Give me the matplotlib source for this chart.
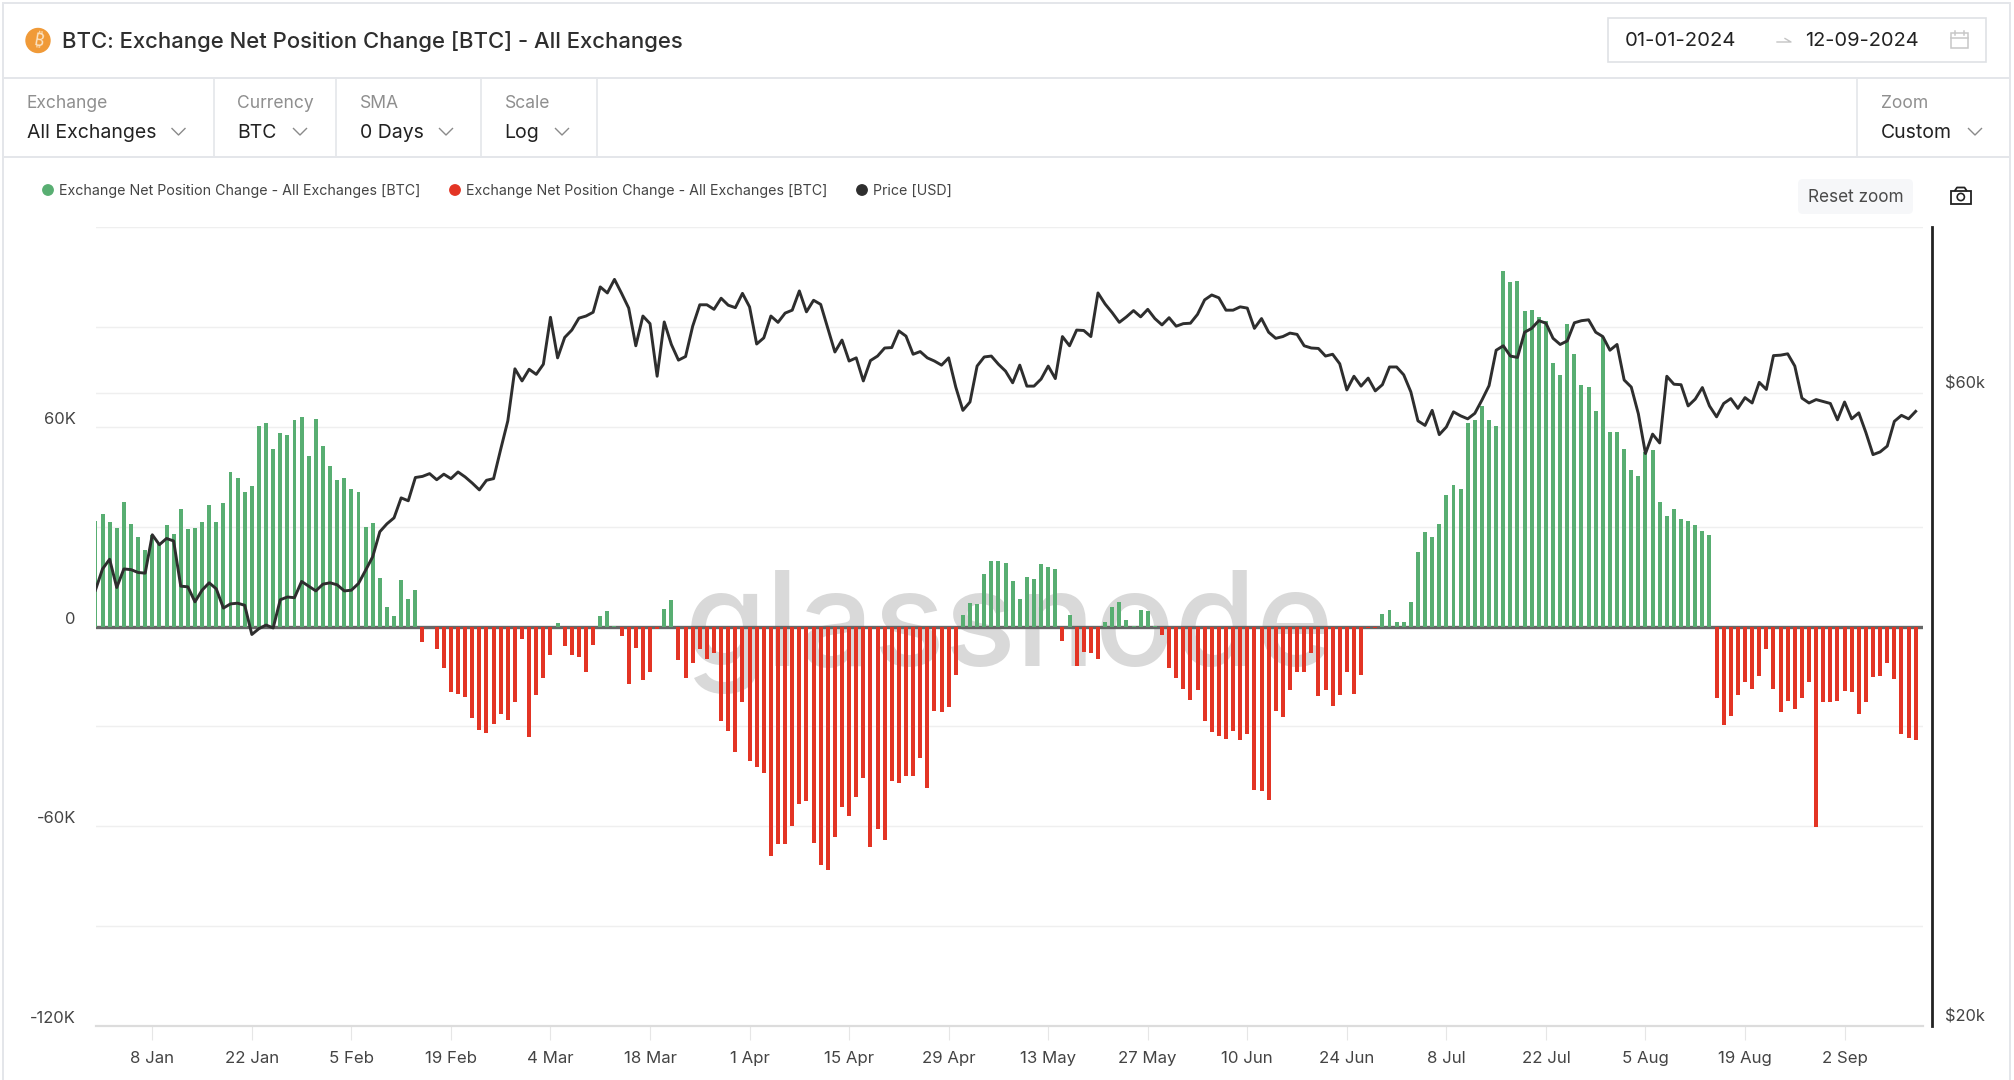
import numpy as np
import pandas as pd
import matplotlib
matplotlib.use("Agg")
import matplotlib.pyplot as plt
from matplotlib.patches import Circle, FancyBboxPatch, Rectangle

plt.rcParams['font.family'] = ['Inter', 'DejaVu Sans']

# net position change, thousands of BTC, one value per day from 31 Dec 2023
net_change_k = [
    31.7, 33.9, 31.4, 29.7, 37.4, 30.9, 27, 22.9, 27.4, 24.8, 30.5, 27.9, 35.3, 29.2, 29.7, 31.4,
    36.5, 31.4, 37, 46.5, 44.6, 40.4, 42.1, 60.2, 61.1, 53.3, 58.1, 57.6, 61.9, 62.8, 51.2, 62.4,
    54.2, 48.2, 43.9, 44.7, 41.3, 40.4, 30, 31.2, 14.5, 5.8, 3.2, 14, 8.4, 11,
    -4.8, -0.1, -6.8, -12.5, -19.8, -20.3, -21.1, -27.5, -31, -32, -29.3, -26.3, -28, -22.8, -3.9,
    -33.2, -20.7, -15.5, -8.6, 1, -6, -8.6, -9.1, -13.8, -5.6, 3.2, 4.6, 0.2, -3, -17.2, -6.5, -16,
    -13.8, -0.7, 5.4, 8, -10, -15.4, -11, -6.7, -9.7, -8, -28.5, -31.3, -37.8, -22.7, -40.4, -42.1,
    -44.1, -68.9, -65.4, -65.4, -59.9, -53.3, -52.3, -65.1, -71.5, -73.2, -63.2, -54.1, -56.8,
    -51.1, -45.6, -66.3, -60.7, -64.1, -46.3, -46.9, -44.8, -44.8, -39.5, -48.5, -25.4, -25.8,
    -24.1, -14.5, 3.6, 7.1, 6.7, 15.7, 19.6, 19.6, 19.2, 13.6, 8.4, 14.8, 14.4, 18.7, 17.9, 17.4,
    -4.5, 3.6, -11.8, -7.6, -8, -9.7, 1.5, 5.8, 7.5, 1.9, 0.1, 5, 4.6, 0.1, -2.5, -12.4, -15.4,
    -18.8, -22, -19.2, -28.4, -31.8, -33, -33.9, -31.4, -34, -32.2, -49.1, -49.5, -52, -25.4,
    -27.1, -19.2, -13.6, -13.6, -8, -21, -19.2, -24, -20.5, -13.6, -20.2, -14.5, -0.6, -0.6,
    3.7, 4.9, 1.5, 1.5, 7.5, 22.3, 28.3, 27, 30.9, 39.6, 42.4, 41.3, 61.2, 61.9, 66.3, 62, 60.3,
    106.9, 103.4, 103.9, 94.8, 95.1, 93, 91.8, 79.1, 75.4, 90.9, 81.9, 72.4, 72, 64.6, 87, 58.5,
    58.5, 53.3, 46.9, 45.2, 52.4, 52.9, 37.4, 33.1, 35.3, 32.2, 31.8, 30.5, 28.7, 27.5,
    -21.4, -29.5, -27, -20.6, -16.6, -18.7, -14.9, -6.7, -18.7, -25.7, -22.3, -24.9, -21.5, -16.7,
    -60.2, -22.7, -22.7, -22.3, -19.3, -19.6, -26.2, -22.7, -15.3, -15, -11, -15.8, -32.3, -33.6, -34,
]

# price in thousands of USD, same days
price_k = [
    42.6, 44.2, 44.95, 42.8, 44.2, 44.15, 43.93, 43.88, 46.9, 46.1, 46.6, 46.4, 42.9, 42.85, 41.75,
    42.6, 43.15, 42.7, 41.3, 41.6, 41.65, 41.5, 39.45, 39.85, 40.1, 39.9, 41.9, 42.1, 42.05, 43.25,
    42.9, 42.55, 43.05, 43.15, 43, 42.55, 42.6, 43.1, 44.1, 45.15, 47.15, 47.8, 48.3, 50, 49.75,
    51.8, 51.9, 52.15, 51.6, 52.1, 51.7, 52.3, 51.85, 51.3, 50.7, 51.55, 51.7, 54.4, 57.15, 62.55,
    61.25, 62.5, 61.95, 63.05, 68.4, 63.75, 66.05, 66.9, 68.3, 68.55, 69, 72.1, 71.35, 73.05, 71.3,
    69.5, 65.1, 68.55, 67.65, 61.75, 67.85, 65.25, 63.5, 63.9, 67.35, 69.9, 69.9, 69.35, 70.7,
    69.85, 69.55, 71.3, 69.65, 65.3, 66, 68.55, 67.8, 68.9, 69.25, 71.6, 69.05, 70.45, 69.95, 67.1,
    64.4, 65.75, 63.4, 63.75, 61.25, 63.45, 63.95, 64.85, 64.9, 66.8, 66.2, 64.15, 64.45, 63.75,
    63.4, 62.95, 63.75, 60.6, 58.2, 59.05, 62.85, 63.85, 63.95, 63.05, 62.3, 61.05, 62.95, 60.7,
    60.7, 61.45, 62.85, 61.5, 66.15, 65.1, 66.9, 66.85, 66.15, 71.35, 70, 68.95, 67.8, 68.45, 69.2,
    68.45, 69.35, 68.25, 67.5, 68.35, 67.35, 67.65, 67.7, 68.75, 70.5, 71.1, 70.75, 69.25, 69.25,
    69.65, 69.5, 67.1, 68.25, 66.65, 65.95, 66.15, 66.55, 66.4, 65.1, 64.85, 64.8, 63.95, 64.15,
    63.1, 60.3, 61.75, 60.7, 61.55, 60.2, 60.85, 62.75, 62.75, 61.9, 60.1, 57.15, 56.7, 58.2, 55.8,
    56.55, 58.05, 57.65, 57.35, 57.9, 59.25, 60.75, 64.6, 65.1, 63.95, 63.8, 66.65, 67.1, 68, 67.7,
    65.95, 65.25, 65.65, 67.75, 68, 68.1, 66.65, 66.15, 64.6, 65.25, 61.35, 60.6, 57.85, 54, 55.85,
    55, 61.75, 60.9, 60.85, 58.65, 59.35, 60.55, 58.65, 57.55, 58.9, 59.4, 58.4, 59.5, 58.95, 61.1,
    60.35, 64, 64.05, 64.2, 62.85, 59.45, 58.95, 59.3, 59.1, 58.9, 57.25, 59.05, 57.35, 57.95, 56,
    53.9, 54.15, 54.7, 57.1, 57.7, 57.35, 58.1,
]

tick_labels = ['8 Jan', '22 Jan', '5 Feb', '19 Feb', '4 Mar', '18 Mar', '1 Apr', '15 Apr', '29 Apr',
               '13 May', '27 May', '10 Jun', '24 Jun', '8 Jul', '22 Jul', '5 Aug', '19 Aug', '2 Sep']
left_ticks = [-120, -90, -60, -30, 0, 30, 60, 90, 120]
left_labels = ['-120K', '', '-60K', '', '0', '', '60K', '', '']
right_ticks = [20, 60]
right_labels = ['$20k', '$60k']

GREEN = '#58ae72'
RED = '#e33424'
DARK = '#2e2e2e'
W, H = 2014, 1080

fig = plt.figure(figsize=(W / 100, H / 100), dpi=100, facecolor='white')

# page furniture is drawn in pixel coordinates on a full-size axes
ui = fig.add_axes([0, 0, 1, 1], zorder=0)
ui.set_xlim(0, W)
ui.set_ylim(H, 0)
ui.axis('off')

LINE = '#e4e6ea'
for y in (3, 78, 157):
    ui.plot([3, 2010], [y, y], color=LINE, lw=1.4)
for x in (3, 2010):
    ui.plot([x, x], [3, H], color=LINE, lw=1.4)
for x in (214, 335.5, 481, 597, 1857):
    ui.plot([x, x], [78, 157], color=LINE, lw=1.2)

ui.add_patch(Circle((38, 40.5), 12, color='#f09a38'))
ui.text(38, 41, '₿', color='#fbe3c4', fontsize=12.5, fontweight='bold', ha='center', va='center',
        rotation=-10, family=['Noto Sans', 'Roboto', 'Open Sans', 'Lato', 'Liberation Sans', 'Noto Sans CJK SC'])
ui.text(62, 42, 'BTC: Exchange Net Position Change [BTC] - All Exchanges', color='#2e2e2e',
        fontsize=15.9, fontweight='medium', va='center')

selectors = [(27, 'Exchange', 'All Exchanges', 178.5), (237.5, 'Currency', 'BTC', 300),
             (359.5, 'SMA', '0 Days', 446), (504.5, 'Scale', 'Log', 562), (1880.5, 'Zoom', 'Custom', 1975)]
for x, name, value, chevron in selectors:
    ui.text(x, 104, name, color='#8f8f8f', fontsize=12.6, va='center')
    ui.text(x, 133.5, value, color='#222222', fontsize=14, va='center')
    ui.plot([chevron - 6.5, chevron, chevron + 6.5], [128.5, 135, 128.5], color='#8a8a8a', lw=1)

ui.add_patch(Rectangle((1608, 18), 378, 44, fill=False, edgecolor='#dfe1e5', lw=1.2))
ui.text(1625, 41.5, '01-01-2024', color='#222222', fontsize=14.6, va='center')
ui.text(1805, 41.5, '12-09-2024', color='#222222', fontsize=14.4, va='center')
ui.plot([1777, 1791, 1785], [42, 42, 38.5], color='#c4c4c4', lw=1)
ui.add_patch(Rectangle((1951, 33), 17, 15, fill=False, edgecolor='#c8c8c8', lw=1.1))
ui.plot([1951, 1968], [38, 38], color='#c8c8c8', lw=1.1)
ui.plot([1955, 1955], [31, 35], color='#c8c8c8', lw=1.1)
ui.plot([1964, 1964], [31, 35], color='#c8c8c8', lw=1.1)

legend_items = [(48, GREEN, 'Exchange Net Position Change - All Exchanges [BTC]'),
                (455, RED, 'Exchange Net Position Change - All Exchanges [BTC]'),
                (862, DARK, 'Price [USD]')]
for x, colour, label in legend_items:
    ui.add_patch(Circle((x, 190), 5.2, color=colour))
    ui.text(x + 11, 191, label, color='#444444', fontsize=10.25, va='center')

ui.add_patch(FancyBboxPatch((1801, 182), 109, 29, boxstyle='round,pad=3,rounding_size=5',
                            facecolor='#f6f7f9', edgecolor='none'))
ui.text(1855.5, 197, 'Reset zoom', color='#4a4a4a', fontsize=12.4, ha='center', va='center')
ui.add_patch(Rectangle((1951, 190.5), 19.5, 13, fill=False, edgecolor='#222222', lw=1.3))
ui.plot([1955, 1957, 1964.5, 1966.5], [190.5, 187.5, 187.5, 190.5], color='#222222', lw=1.3)
ui.add_patch(Circle((1960.8, 197), 3.6, fill=False, edgecolor='#222222', lw=1.2))

# chart
dates = pd.date_range('2023-12-31', periods=len(net_change_k), freq='D')
values = np.array(net_change_k)
left, right, top, bottom = 96, 1922.5, 227, 1026

ax = fig.add_axes([left / W, 1 - bottom / H, (right - left) / W, (bottom - top) / H], zorder=1)
ax.patch.set_alpha(0)
ax.text(0.5, 0.4506, 'glassnode', transform=ax.transAxes, ha='center', va='baseline', color='#d9d9d9',
        fontsize=95, fontweight='medium', zorder=0.7)
ax.axhline(0, color='#666666', lw=2.4, zorder=1.5)
ax.bar(dates[values >= 0], values[values >= 0], width=0.56, color=GREEN, zorder=2)
ax.bar(dates[values < 0], values[values < 0], width=0.56, color=RED, zorder=2)

ax.set_xlim(dates[0] + pd.Timedelta(hours=2), dates[0] + pd.Timedelta(days=256.96))
ax.set_ylim(-120, 120)
ax.set_xticks(pd.date_range('2024-01-08', periods=len(tick_labels), freq='14D'))
ax.set_xticklabels(tick_labels)
ax.set_yticks(left_ticks)
ax.set_yticklabels(left_labels)
for label in ax.get_yticklabels():
    label.set_verticalalignment('bottom')
ax.grid(axis='y', color='#efefef', lw=1, zorder=0)
ax.set_axisbelow(True)
ax.tick_params(axis='y', length=0, pad=14.5, labelsize=11.9, labelcolor='#444444')
ax.tick_params(axis='x', length=10, width=0.8, color='#e6e6e6', pad=8.3, labelsize=12.1,
               labelcolor='#444444')
for side in ('left', 'right', 'top'):
    ax.spines[side].set_visible(False)
ax.spines['bottom'].set_color('#dcdcdc')
ax.spines['bottom'].set_linewidth(1.6)

# price on the right, log scale
ax2 = ax.twinx()
ax2.patch.set_alpha(0)
ax2.plot(dates, price_k, color=DARK, lw=2.1)
ax2.set_yscale('log')
ax2.set_ylim(20, 80)
ax2.set_yticks(right_ticks)
ax2.set_yticklabels([])
ax2.minorticks_off()
ax2.tick_params(axis='y', length=0)
# tick labels here sit above their gridline, va on label2 did not stick so annotate them
for value, label in zip(right_ticks, right_labels):
    ax2.annotate(label, xy=(1, value), xycoords=ax2.get_yaxis_transform(), xytext=(16.2, 6.5),
                 textcoords='offset points', va='center', color='#444444', fontsize=11.8)
for side in ('left', 'top', 'bottom'):
    ax2.spines[side].set_visible(False)
ax2.spines['right'].set_position(('outward', 6.8))
ax2.spines['right'].set_color('#222222')
ax2.spines['right'].set_linewidth(2)

# the $60k gridline belongs to the log axis but sits behind the bars, so it goes on ax
frac_60k = np.log(right_ticks[1] / 20) / np.log(80 / 20)
ax.axhline(-120 + 240 * frac_60k, color='#efefef', lw=1, zorder=0.5)

fig.savefig('out.png', dpi=100)
